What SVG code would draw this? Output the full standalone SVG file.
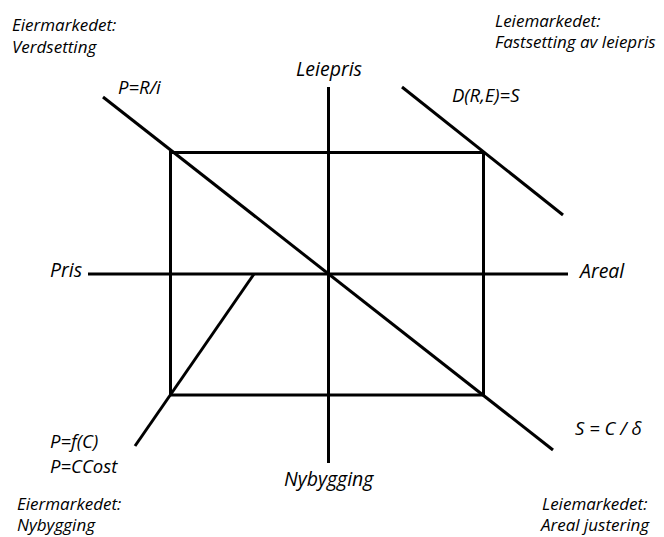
<svg xmlns="http://www.w3.org/2000/svg" width="664" height="537" viewBox="0 0 664 537">
<style>
.l{stroke:#000;stroke-width:3;fill:none;stroke-linecap:butt}
text{font-family:"Open Sans","Liberation Sans",sans-serif;font-style:italic;font-size:19.5px;fill:#000}
.s{font-size:17px}
.f{font-size:18.5px}
</style>
<rect width="664" height="537" fill="#fff"/>
<g id="connectors">
<line class="l" x1="88" y1="274" x2="568" y2="274"/>
<line class="l" x1="328.5" y1="87" x2="328.5" y2="463"/>
<rect class="l" x="170.5" y="152.5" width="313" height="242.5"/>
<line class="l" x1="103" y1="97" x2="553" y2="450"/>
<line class="l" x1="402" y1="87" x2="563" y2="215"/>
<line class="l" x1="254" y1="274" x2="135" y2="446"/>
</g>
<g id="labels">
<text class="s" x="12" y="31">Eiermarkedet:</text>
<text class="s" x="12" y="53">Verdsetting</text>
<text class="f" x="118" y="94">P=R/i</text>
<text x="296" y="76">Leiepris</text>
<text class="f" x="452" y="102">D(R,E)=S</text>
<text class="s" x="495" y="27">Leiemarkedet:</text>
<text class="s" x="495" y="48">Fastsetting av leiepris</text>
<text x="50" y="277">Pris</text>
<text x="580" y="278">Areal</text>
<text class="f" x="50" y="448">P=f(C)</text>
<text class="f" x="50" y="473">P=CCost</text>
<text x="284" y="486">Nybygging</text>
<text class="f" x="575" y="435">S = C / δ</text>
<text class="s" x="17" y="510">Eiermarkedet:</text>
<text class="s" x="17" y="531">Nybygging</text>
<text class="s" x="542" y="510">Leiemarkedet:</text>
<text class="s" x="541" y="531">Areal justering</text>
</g>
</svg>
